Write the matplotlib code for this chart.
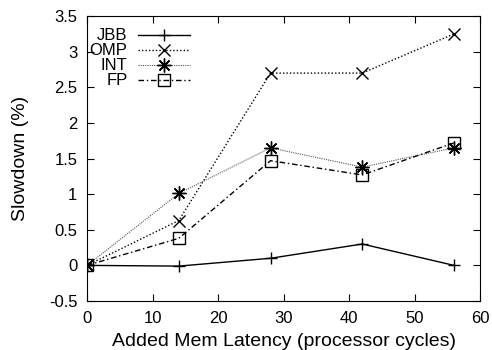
import numpy as np
import matplotlib.pyplot as plt

plt.rcParams['font.family'] = ['Liberation Sans', 'DejaVu Sans']

latency = [0, 14, 28, 42, 56]
jbb = [0, -0.01, 0.1, 0.3, 0]
omp = [0, 0.63, 2.7, 2.7, 3.25]
intg = [0, 1.01, 1.65, 1.38, 1.65]
fp = [0, 0.38, 1.47, 1.27, 1.72]

fig = plt.figure(figsize=(4.92, 3.5), dpi=100)
ax = fig.add_axes([0.177, 0.14, 0.799, 0.814])

ax.plot(latency, jbb, color='black', lw=1, marker='+', ms=9, mew=1, label='JBB')
ax.plot(latency, omp, color='black', lw=1, ls=(0, (1, 1.5)), marker='x', ms=8, mew=1, label='OMP')
ax.plot(latency, intg, color='#555555', lw=0.8, ls=(0, (1, 1)), marker=(8, 2, 0), ms=10,
        mew=1, mec='black', label='INT')
ax.plot(latency, fp, color='black', lw=1, ls=(0, (4, 2, 1, 2)), marker='s', ms=9, mew=1,
        mfc='none', mec='black', label='FP')

ax.set_xlim(0, 60)
ax.set_ylim(-0.5, 3.5)
ax.set_xticks(np.arange(0, 61, 10))
ax.set_yticks(np.arange(-0.5, 3.6, 0.5))
ax.set_yticklabels(['%g' % v for v in np.arange(-0.5, 3.6, 0.5)])
ax.tick_params(direction='in', top=True, right=True, length=5, labelsize=12, pad=7)
ax.set_xlabel('Added Mem Latency (processor cycles)', fontsize=14, labelpad=5)
ax.set_ylabel('Slowdown (%)', fontsize=14, labelpad=14)

leg = ax.legend(loc='upper right', frameon=False, markerfirst=False, fontsize=12,
                handlelength=3.1, labelspacing=0.0, handletextpad=0.65, borderpad=0,
                bbox_to_anchor=(0.262, 0.957), borderaxespad=0)

fig.savefig('out.png', dpi=100)
